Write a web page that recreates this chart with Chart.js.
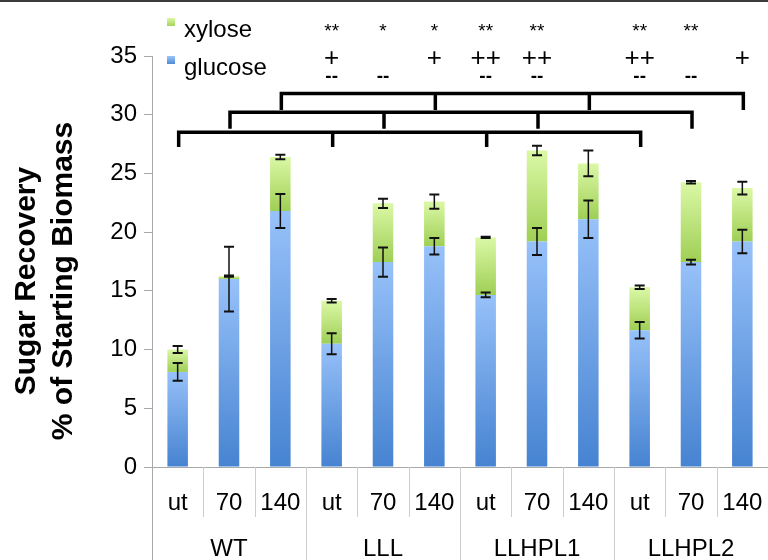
<!DOCTYPE html>
<html>
<head>
<meta charset="utf-8">
<script src="https://cdn.jsdelivr.net/npm/chart.js@4.4.0/dist/chart.umd.min.js"></script>
<style>
  html, body { margin: 0; padding: 0; background: #fff; }
</style>
</head>
<body>
<canvas id="sugarChart" width="768" height="560"></canvas>
<script>
// groups and treatments (bottom two label rows)
const groups = ['WT', 'LLL', 'LLHPL1', 'LLHPL2'];
const treatments = ['ut', '70', '140'];
const categories = ['WT ut', 'WT 70', 'WT 140', 'LLL ut', 'LLL 70', 'LLL 140',
  'LLHPL1 ut', 'LLHPL1 70', 'LLHPL1 140', 'LLHPL2 ut', 'LLHPL2 70', 'LLHPL2 140'];

// stacked values (% of starting biomass)
const glucose = [8.1, 16.0, 21.8, 10.5, 17.45, 18.8, 14.65, 19.2, 21.1, 11.65, 17.45, 19.2];
const xylose = [1.9, 0.25, 4.6, 3.65, 5.0, 3.8, 4.9, 7.75, 4.75, 3.65, 6.8, 4.55];
// error bars: on glucose top and on stack top
const glucoseErr = [0.75, 2.75, 1.45, 0.9, 1.25, 0.7, 0.2, 1.15, 1.6, 0.7, 0.2, 1.0];
const totalErr = [0.3, 0.05, 0.2, 0.15, 0.4, 0.6, 0.05, 0.4, 1.1, 0.15, 0.1, 0.55];

// significance marks above the bars
const starMarks = ['', '', '', '**', '*', '*', '**', '**', '', '**', '**', ''];
const plusMarks = ['', '', '', '+', '', '+', '++', '++', '', '++', '', '+'];
const minusMarks = ['', '', '', '--', '--', '', '--', '--', '', '--', '--', ''];

// comparison brackets: bar indices joined, level and drop in axis units
const bracketBars = [[2, 5, 8, 11], [1, 4, 7, 10], [0, 3, 6, 9]];
const bracketLevels = [31.8, 30.2, 28.5];
const bracketDrops = [1.25, 1.25, 1.1];

const yTitle = ['Sugar Recovery', '% of Starting Biomass'];
const FONT = "'Liberation Sans', Arial, Helvetica, sans-serif";

function segGradient(c, isXylose) {
  const chart = c.chart;
  const y = chart.scales.y;
  const fallback = isXylose ? '#bde37f' : '#6ea1e5';
  if (!chart.chartArea || !y || c.dataIndex === undefined) return fallback;
  const i = c.dataIndex;
  const lo = isXylose ? glucose[i] : 0;
  const hi = lo + (isXylose ? xylose[i] : glucose[i]);
  const yTop = y.getPixelForValue(hi);
  const yBot = y.getPixelForValue(lo);
  if (!isFinite(yTop) || !isFinite(yBot) || yTop === yBot) return fallback;
  const g = chart.ctx.createLinearGradient(0, yTop, 0, yBot);
  if (isXylose) {
    g.addColorStop(0, '#dbf8a6');
    g.addColorStop(1, '#9fcf55');
  } else {
    g.addColorStop(0, '#97c1f9');
    g.addColorStop(1, '#4683d1');
  }
  return g;
}

const overlay = {
  id: 'overlay',
  afterDraw(chart) {
    const { ctx, chartArea } = chart;
    const x = chart.scales.x;
    const y = chart.scales.y;
    const half = (x.getPixelForValue(1) - x.getPixelForValue(0)) / 2;
    ctx.save();

    // frame line at the very top
    ctx.fillStyle = '#3c3c3c';
    ctx.fillRect(0, 0, chart.width, 2);

    // axis line continued through the label rows
    ctx.strokeStyle = '#a8a8a8';
    ctx.lineWidth = 1;
    ctx.beginPath();
    ctx.moveTo(chartArea.left + 0.5, chartArea.bottom);
    ctx.lineTo(chartArea.left + 0.5, chart.height);
    ctx.stroke();

    // dividers in the label rows
    ctx.strokeStyle = '#cdcdcd';
    for (let i = 1; i < categories.length; i++) {
      const bx = Math.round(x.getPixelForValue(i) - half) + 0.5;
      const isGroup = i % treatments.length === 0;
      ctx.beginPath();
      ctx.moveTo(bx, chartArea.bottom);
      ctx.lineTo(bx, isGroup ? chart.height : chartArea.bottom + 50);
      ctx.stroke();
    }

    // label rows
    ctx.fillStyle = '#000';
    ctx.textAlign = 'center';
    ctx.textBaseline = 'alphabetic';
    ctx.font = '24px ' + FONT;
    categories.forEach((c, i) => {
      ctx.fillText(treatments[i % treatments.length], x.getPixelForValue(i), chartArea.bottom + 43);
    });
    groups.forEach((g, k) => {
      const cx = (x.getPixelForValue(k * 3) + x.getPixelForValue(k * 3 + 2)) / 2;
      ctx.fillText(g, cx, chartArea.bottom + 89);
    });

    // error bars
    ctx.strokeStyle = '#111';
    const drawErr = (i, v, e) => {
      const px = x.getPixelForValue(i);
      const y1 = y.getPixelForValue(v + e);
      const y2 = y.getPixelForValue(v - e);
      ctx.lineWidth = 1.5;
      ctx.beginPath();
      ctx.moveTo(px, y1);
      ctx.lineTo(px, y2);
      ctx.stroke();
      ctx.lineWidth = 2;
      ctx.beginPath();
      ctx.moveTo(px - 5, y1);
      ctx.lineTo(px + 5, y1);
      ctx.moveTo(px - 5, y2);
      ctx.lineTo(px + 5, y2);
      ctx.stroke();
    };
    categories.forEach((c, i) => {
      drawErr(i, glucose[i], glucoseErr[i]);
      drawErr(i, glucose[i] + xylose[i], totalErr[i]);
    });

    // brackets
    ctx.strokeStyle = '#000';
    ctx.lineWidth = 3.5;
    ctx.lineCap = 'square';
    bracketBars.forEach((bars, k) => {
      const yl = y.getPixelForValue(bracketLevels[k]);
      const yd = y.getPixelForValue(bracketLevels[k] - bracketDrops[k]);
      const xs = bars.map(i => x.getPixelForValue(i) + 1);
      ctx.beginPath();
      ctx.moveTo(xs[0], yl);
      ctx.lineTo(xs[xs.length - 1], yl);
      xs.forEach(px => {
        ctx.moveTo(px, yl);
        ctx.lineTo(px, yd);
      });
      ctx.stroke();
    });

    // significance marks
    ctx.fillStyle = '#000';
    categories.forEach((c, i) => {
      const px = x.getPixelForValue(i);
      ctx.font = '19px ' + FONT;
      ctx.fillText(starMarks[i], px, 37);
      ctx.font = '26px ' + FONT;
      ctx.fillText(plusMarks[i], px, 66);
      ctx.font = 'bold 19px ' + FONT;
      ctx.fillText(minusMarks[i], px, 82);
    });

    // legend (xylose above glucose)
    const legendItems = [[chart.data.datasets[1].label, '#dbf8a6', '#a6d35e', 37],
                         [chart.data.datasets[0].label, '#9cc4fa', '#4f8ad6', 75]];
    legendItems.forEach(([label, c1, c2, base]) => {
      const g = ctx.createLinearGradient(0, base - 19, 0, base - 11);
      g.addColorStop(0, c1);
      g.addColorStop(1, c2);
      ctx.fillStyle = g;
      ctx.fillRect(167, base - 19, 8, 8);
      ctx.fillStyle = '#000';
      ctx.textAlign = 'left';
      ctx.font = '24px ' + FONT;
      ctx.fillText(label, 184, base);
    });

    // y axis title, two rotated lines
    ctx.save();
    ctx.translate(0, 281);
    ctx.rotate(-Math.PI / 2);
    ctx.textAlign = 'center';
    ctx.textBaseline = 'alphabetic';
    ctx.font = 'bold 30px ' + FONT;
    ctx.fillText(yTitle[0], 0, 35);
    ctx.fillText(yTitle[1], 0, 72);
    ctx.restore();

    ctx.restore();
  }
};

new Chart(document.getElementById('sugarChart').getContext('2d'), {
  type: 'bar',
  data: {
    labels: categories,
    datasets: [
      { label: 'glucose', data: glucose, backgroundColor: c => segGradient(c, false),
        barPercentage: 0.4, categoryPercentage: 1.0 },
      { label: 'xylose', data: xylose, backgroundColor: c => segGradient(c, true),
        barPercentage: 0.4, categoryPercentage: 1.0 }
    ]
  },
  options: {
    responsive: false,
    animation: false,
    devicePixelRatio: 1,
    layout: { padding: { top: 56, bottom: 93, left: 0, right: 0 } },
    plugins: { legend: { display: false }, tooltip: { enabled: false } },
    scales: {
      x: {
        stacked: true,
        grid: { display: false, drawTicks: false },
        ticks: { display: false },
        border: { display: true, color: '#a8a8a8' }
      },
      y: {
        stacked: true,
        min: 0,
        max: 35,
        afterFit: s => { s.width = 152; },
        ticks: { stepSize: 5, color: '#000', padding: 7, font: { family: FONT, size: 24 } },
        grid: { drawOnChartArea: false, drawTicks: true, tickLength: 8, color: '#a8a8a8' },
        border: { color: '#a8a8a8' }
      }
    }
  },
  plugins: [overlay]
});
</script>
</body>
</html>
